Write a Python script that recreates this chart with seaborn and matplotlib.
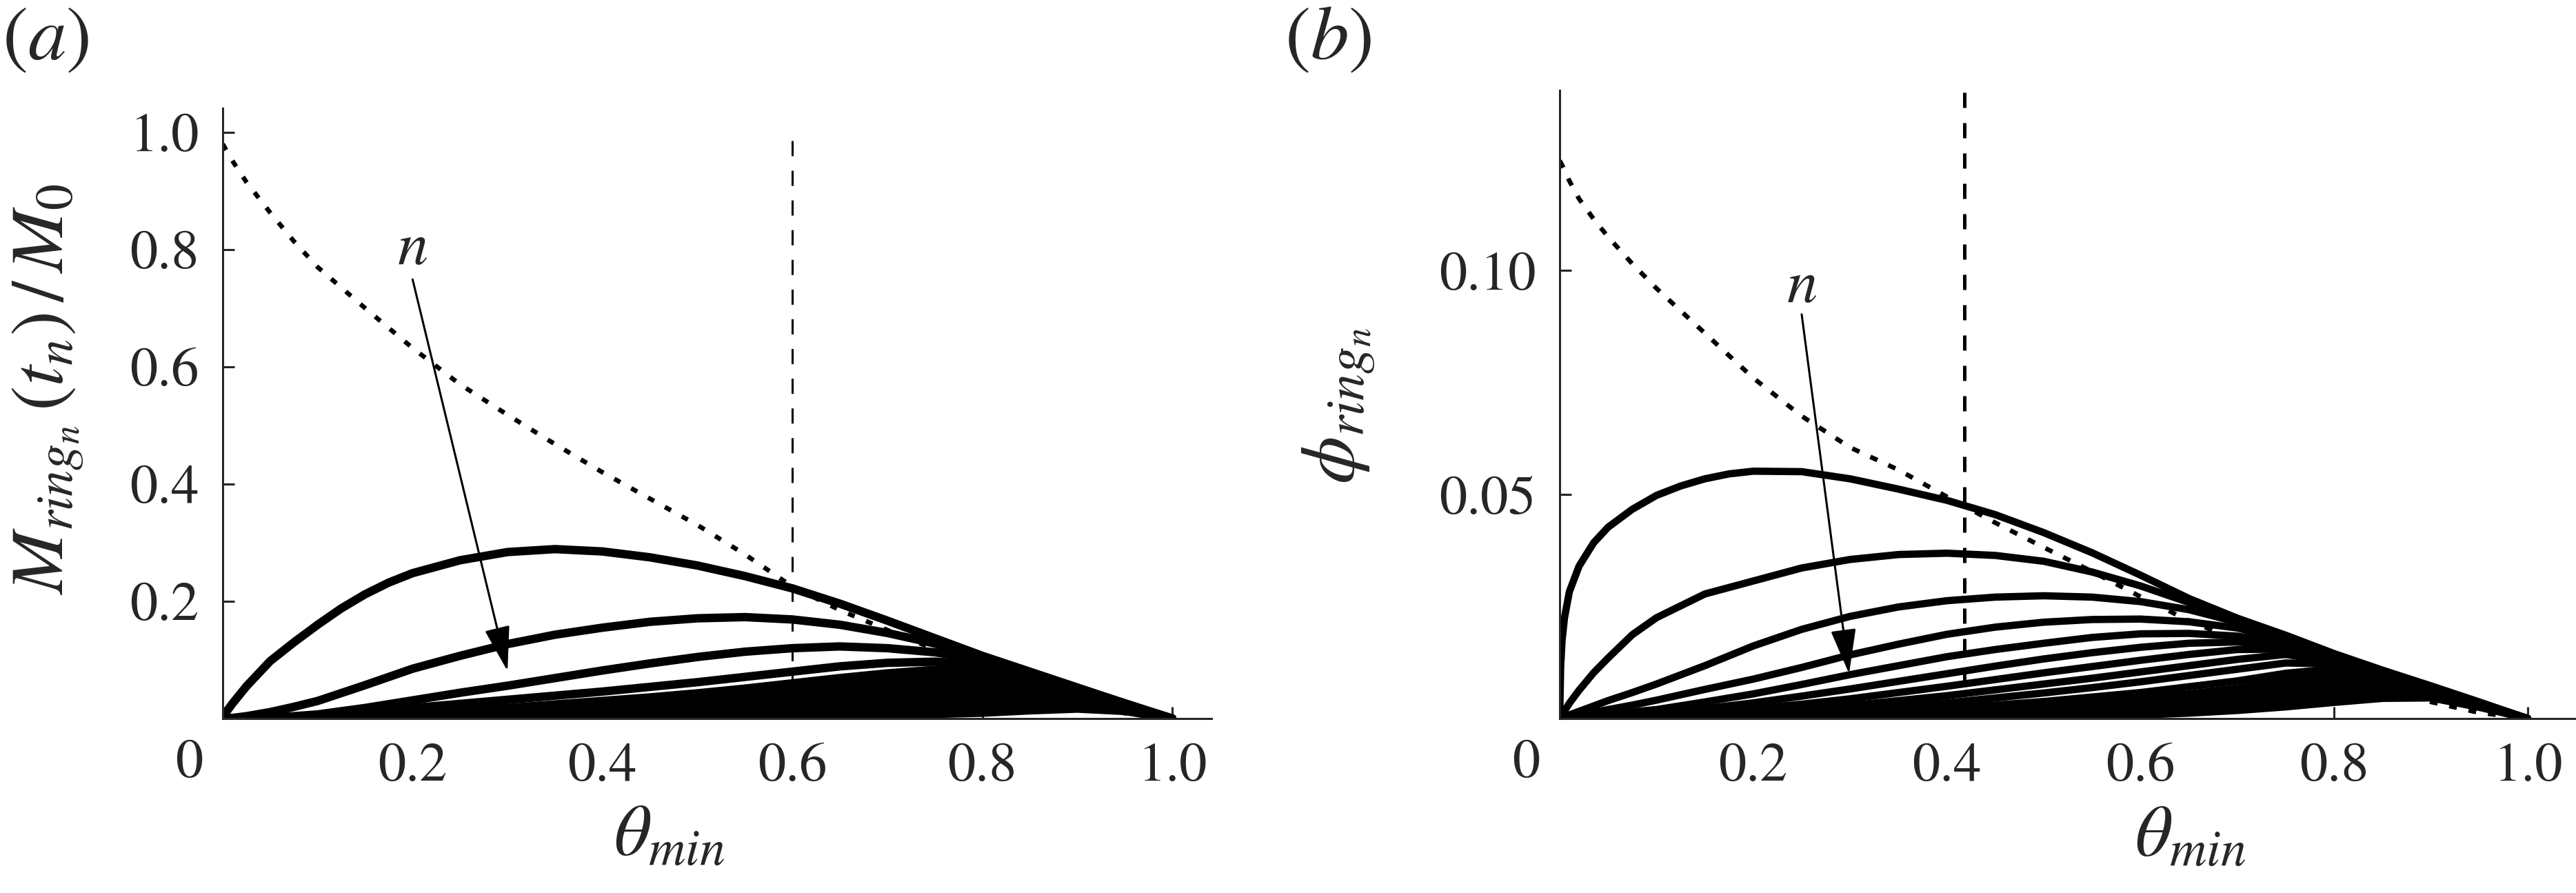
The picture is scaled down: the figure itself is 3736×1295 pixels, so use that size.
import seaborn as sns
import matplotlib.pyplot as plt

# panel (a): ring mass fraction against theta_min
xa = [0, 0.01, 0.025, 0.05, 0.075, 0.1, 0.15, 0.2, 0.25, 0.3, 0.35, 0.4, 0.45, 0.5,
      0.55, 0.6, 0.65, 0.7, 0.75, 0.8, 0.85, 0.9, 0.95, 1.0]
bound_a = [0.98, 0.952, 0.915, 0.863, 0.814, 0.77, 0.70, 0.632, 0.57, 0.518, 0.468, 0.42,
           0.375, 0.33, 0.28, 0.225, 0.185, 0.151, 0.118, 0.088, 0.058, 0.03, 0.009, 0.0]
# first ring rises fast, so it gets a finer grid of its own
xa1 = [0, 0.005, 0.01, 0.025, 0.05, 0.075, 0.1, 0.125, 0.15, 0.175, 0.2, 0.25, 0.3, 0.35,
       0.4, 0.45, 0.5, 0.55, 0.6, 0.65, 0.7, 0.75, 0.8, 0.85, 0.9, 0.95, 1.0]
m1 = [0, 0.014, 0.025, 0.055, 0.098, 0.13, 0.16, 0.188, 0.212, 0.232, 0.248, 0.27, 0.284,
      0.289, 0.285, 0.275, 0.261, 0.243, 0.222, 0.196, 0.167, 0.137, 0.107, 0.080, 0.053,
      0.026, 0]
m2 = [0, 0.001, 0.004, 0.011, 0.02, 0.03, 0.057, 0.085, 0.107, 0.127, 0.143, 0.155, 0.165,
      0.171, 0.173, 0.169, 0.16, 0.146, 0.128, 0.105, 0.079, 0.052, 0.026, 0]
m3 = [0, 0, 0.001, 0.002, 0.004, 0.007, 0.018, 0.031, 0.044, 0.056, 0.069, 0.082, 0.094,
      0.105, 0.114, 0.12, 0.123, 0.12, 0.113, 0.101, 0.077, 0.051, 0.025, 0]
m4 = [0, 0, 0, 0.001, 0.002, 0.004, 0.01, 0.018, 0.025, 0.032, 0.039, 0.046, 0.054, 0.062,
      0.071, 0.08, 0.089, 0.095, 0.097, 0.093, 0.073, 0.049, 0.024, 0]
m5 = [0, 0, 0, 0, 0.001, 0.002, 0.005, 0.01, 0.014, 0.018, 0.024, 0.03, 0.036, 0.043,
      0.051, 0.06, 0.069, 0.077, 0.083, 0.081, 0.066, 0.045, 0.023, 0]
m6 = [0, 0, 0, 0, 0, 0.001, 0.003, 0.005, 0.008, 0.011, 0.015, 0.02, 0.026, 0.032, 0.039,
      0.047, 0.056, 0.065, 0.073, 0.074, 0.063, 0.044, 0.022, 0]
m7 = [0, 0, 0, 0, 0, 0, 0.001, 0.003, 0.005, 0.007, 0.010, 0.014, 0.019, 0.024, 0.030,
      0.037, 0.045, 0.053, 0.062, 0.067, 0.060, 0.043, 0.022, 0]
m8 = [0, 0, 0, 0, 0, 0, 0, 0.001, 0.002, 0.004, 0.006, 0.009, 0.013, 0.017, 0.022, 0.028,
      0.035, 0.042, 0.05, 0.057, 0.055, 0.041, 0.021, 0]
m9 = [0, 0, 0, 0, 0, 0, 0, 0, 0.001, 0.002, 0.004, 0.006, 0.009, 0.012, 0.016, 0.021,
      0.027, 0.033, 0.04, 0.047, 0.049, 0.039, 0.02, 0]
m10 = [0, 0, 0, 0, 0, 0, 0, 0, 0, 0.001, 0.002, 0.004, 0.006, 0.008, 0.011, 0.015, 0.019,
       0.024, 0.03, 0.036, 0.042, 0.036, 0.019, 0]
m11 = [0, 0, 0, 0, 0, 0, 0, 0, 0, 0, 0.001, 0.002, 0.003, 0.005, 0.007, 0.01, 0.013,
       0.017, 0.021, 0.026, 0.032, 0.033, 0.018, 0]
m12 = [0, 0, 0, 0, 0, 0, 0, 0, 0, 0, 0, 0.001, 0.002, 0.003, 0.004, 0.006, 0.008, 0.011,
       0.014, 0.018, 0.022, 0.026, 0.016, 0]
m13 = [0, 0, 0, 0, 0, 0, 0, 0, 0, 0, 0, 0, 0.001, 0.001, 0.002, 0.003, 0.004, 0.006,
       0.008, 0.01, 0.014, 0.017, 0.013, 0]
mass_curves = [m2, m3, m4, m5, m6, m7, m8, m9, m10, m11, m12, m13]

# panel (b): ring volume fraction against theta_min
xb = [0, 0.0025, 0.005, 0.01, 0.02, 0.035, 0.05, 0.075, 0.1, 0.15, 0.2, 0.25, 0.3, 0.35,
      0.4, 0.45, 0.5, 0.55, 0.6, 0.65, 0.7, 0.75, 0.8, 0.85, 0.9, 0.95, 1.0]
bound_b = [0.1245, 0.1235, 0.1225, 0.12, 0.116, 0.1115, 0.1075, 0.1015, 0.096, 0.086,
           0.076, 0.0675, 0.0605, 0.0555, 0.0495, 0.0437, 0.0382, 0.0328, 0.0272, 0.0218,
           0.0175, 0.014, 0.0105, 0.007, 0.0037, 0.0013, 0]
xb1 = [0, 0.001, 0.0025, 0.005, 0.01, 0.02, 0.035, 0.05, 0.075, 0.1, 0.125, 0.15, 0.175,
       0.2, 0.25, 0.3, 0.35, 0.4, 0.45, 0.5, 0.55, 0.6, 0.65, 0.7, 0.75, 0.8, 0.85, 0.9,
       0.95, 1.0]
p1 = [0, 0.0115, 0.0175, 0.0225, 0.0283, 0.034, 0.0392, 0.0427, 0.0467, 0.0498, 0.0519,
      0.0535, 0.0546, 0.0552, 0.0551, 0.0535, 0.0512, 0.0487, 0.0455, 0.0415, 0.037,
      0.032, 0.0268, 0.0224, 0.0186, 0.0145, 0.0108, 0.0073, 0.0037, 0]
p2 = [0, 0.0008, 0.0017, 0.0034, 0.0063, 0.0102, 0.0135, 0.0187, 0.0225, 0.0278, 0.0307,
      0.0336, 0.0355, 0.0366, 0.0369, 0.0364, 0.0351, 0.0327, 0.0296, 0.0259, 0.022, 0.0182,
      0.0143, 0.0106, 0.0071, 0.0036, 0]
p3 = [0, 0.0002, 0.0004, 0.0008, 0.0016, 0.0028, 0.004, 0.0058, 0.0077, 0.0118, 0.0162,
      0.0199, 0.0228, 0.0249, 0.0263, 0.0271, 0.0274, 0.0271, 0.0261, 0.0243, 0.0215,
      0.0181, 0.0142, 0.0105, 0.007, 0.0035, 0]
p4 = [0, 0.0001, 0.0002, 0.0004, 0.0008, 0.0014, 0.002, 0.003, 0.0041, 0.0065, 0.0088,
      0.0114, 0.0142, 0.0166, 0.0188, 0.0204, 0.0215, 0.0221, 0.0222, 0.0216, 0.0202,
      0.0177, 0.0141, 0.0104, 0.0069, 0.0035, 0]
p5 = [0, 0, 0.0001, 0.0002, 0.0004, 0.0007, 0.001, 0.0015, 0.002, 0.0037, 0.0055, 0.0076,
      0.0098, 0.0118, 0.0138, 0.0154, 0.0168, 0.0181, 0.0189, 0.019, 0.0184, 0.0168,
      0.0138, 0.0103, 0.0068, 0.0034, 0]
p6 = [0, 0, 0, 0.0001, 0.0002, 0.0004, 0.0005, 0.0008, 0.0012, 0.0022, 0.0035, 0.005,
      0.0066, 0.0083, 0.01, 0.0117, 0.0133, 0.0147, 0.0159, 0.0168, 0.0171, 0.0162, 0.0135,
      0.0102, 0.0068, 0.0034, 0]
p7 = [0, 0, 0, 0, 0.0001, 0.0002, 0.0003, 0.0005, 0.0007, 0.0013, 0.0022, 0.0032, 0.0044,
      0.0058, 0.0072, 0.0087, 0.0102, 0.0116, 0.013, 0.0143, 0.0154, 0.0155, 0.0132,
      0.0101, 0.0067, 0.0034, 0]
p8 = [0, 0, 0, 0, 0, 0.0001, 0.0001, 0.0002, 0.0004, 0.0008, 0.0013, 0.002, 0.0029, 0.004,
      0.0051, 0.0064, 0.0077, 0.009, 0.0104, 0.0118, 0.0132, 0.0143, 0.0127, 0.0099,
      0.0066, 0.0033, 0]
p9 = [0, 0, 0, 0, 0, 0, 0, 0.0001, 0.0002, 0.0004, 0.0008, 0.0013, 0.0019, 0.0027, 0.0035,
      0.0046, 0.0057, 0.0069, 0.0082, 0.0096, 0.011, 0.0124, 0.0122, 0.0097, 0.0065,
      0.0033, 0]
p10 = [0, 0, 0, 0, 0, 0, 0, 0, 0.0001, 0.0002, 0.0004, 0.0007, 0.0011, 0.0016, 0.0022,
       0.003, 0.0038, 0.0048, 0.0058, 0.0071, 0.0084, 0.0101, 0.0111, 0.0094, 0.0064,
       0.0032, 0]
p11 = [0, 0, 0, 0, 0, 0, 0, 0, 0, 0.0001, 0.0002, 0.0004, 0.0007, 0.001, 0.0015, 0.002,
       0.0027, 0.0035, 0.0044, 0.0055, 0.0068, 0.0086, 0.0096, 0.0092, 0.0063, 0.0032, 0]
p12 = [0, 0, 0, 0, 0, 0, 0, 0, 0, 0, 0.0001, 0.0002, 0.0004, 0.0006, 0.0009, 0.0013,
       0.0018, 0.0024, 0.0031, 0.004, 0.0053, 0.0071, 0.0081, 0.0082, 0.0061, 0.0031, 0]
p13 = [0, 0, 0, 0, 0, 0, 0, 0, 0, 0, 0, 0.0001, 0.0002, 0.0003, 0.0005, 0.0008, 0.0011,
       0.0016, 0.0021, 0.0028, 0.0039, 0.0056, 0.0066, 0.007, 0.0059, 0.003, 0]
p14 = [0, 0, 0, 0, 0, 0, 0, 0, 0, 0, 0, 0, 0.0001, 0.0002, 0.0003, 0.0005, 0.0007, 0.001,
       0.0014, 0.0019, 0.0027, 0.0041, 0.0051, 0.0057, 0.0054, 0.0028, 0]
p15 = [0, 0, 0, 0, 0, 0, 0, 0, 0, 0, 0, 0, 0.0001, 0.0001, 0.0002, 0.0003, 0.0004, 0.0006,
       0.0008, 0.0012, 0.0018, 0.0026, 0.0036, 0.0045, 0.0046, 0.0025, 0]
phi_curves = [p2, p3, p4, p5, p6, p7, p8, p9, p10, p11, p12, p13, p14, p15]

xticks = [0.2, 0.4, 0.6, 0.8, 1.0]
xtick_labels = ["0.2", "0.4", "0.6", "0.8", "1.0"]
yticks_a = [0.2, 0.4, 0.6, 0.8, 1.0]
ytick_labels_a = ["0.2", "0.4", "0.6", "0.8", "1.0"]
yticks_b = [0.05, 0.10]
ytick_labels_b = ["0.05", "0.10"]
theta_cut_a = 0.6
theta_cut_b = 0.418

sns.set_style("ticks")
plt.rcParams["font.family"] = ["STIXGeneral", "Liberation Serif", "DejaVu Serif"]
plt.rcParams["mathtext.fontset"] = "stix"

fig = plt.figure(figsize=(18.685, 6.475), dpi=200)
ax_a = fig.add_axes([0.08643, 0.19537, 0.38373, 0.68340])
ax_b = fig.add_axes([0.60530, 0.19537, 0.39470, 0.70347])


def style_axes(ax, yticks, ylabels):
    sns.despine(ax=ax)
    ax.spines["left"].set_linewidth(1.1)
    ax.spines["bottom"].set_linewidth(1.1)
    ax.set_xticks(xticks)
    ax.set_xticklabels(xtick_labels)
    ax.set_yticks(yticks)
    ax.set_yticklabels(ylabels)
    ax.tick_params(direction="in", length=6, width=1.1, labelsize=29, pad=12.5)
    ax.set_xlabel("")
    ax.set_ylabel("")
    # the origin label sits off to the lower left, like the source plot
    ax.annotate("0", xy=(0, 0), xytext=(-17.6, -23.7), textcoords="offset points",
                ha="center", va="center", fontsize=29)


def draw(ax, x, y, lw, ls="-"):
    sns.lineplot(x=x, y=y, ax=ax, color="black", linewidth=lw, linestyle=ls,
                 estimator=None, sort=False)


# ---- (a)
draw(ax_a, xa, bound_a, 2.4, (0, (1.5, 2.7)))
draw(ax_a, xa1, m1, 4.4)
for m in mass_curves:
    draw(ax_a, xa, m, 4.4)
draw(ax_a, [theta_cut_a, theta_cut_a], [0.986, 0], 1.1, (0, (7.2, 6.9)))
ax_a.set_xlim(0, 1.0414)
ax_a.set_ylim(0, 1.041)
style_axes(ax_a, yticks_a, ytick_labels_a)
ax_a.annotate("", xy=(0.30, 0.081), xytext=(0.2, 0.749),
              arrowprops=dict(arrowstyle="-|>,head_length=0.6,head_width=0.17",
                              color="black", lw=1.1, shrinkA=0, shrinkB=0,
                              mutation_scale=34))
ax_a.text(0.2, 0.80, r"$n$", fontsize=32, ha="center", va="center")
ax_a.text(0.452, -0.197, r"$\theta_{min}$", fontsize=38, ha="center", va="center",
          transform=ax_a.transAxes)
ax_a.text(-0.176, 0.54, r"$M_{ring_n}\,(t_n)\,/\,M_0$", fontsize=39, rotation=90,
          ha="center", va="center", transform=ax_a.transAxes)

# ---- (b)
draw(ax_b, xb, bound_b, 2.4, (0, (1.7, 2.6)))
draw(ax_b, xb1, p1, 3.8)
for p in phi_curves:
    draw(ax_b, xb, p, 3.8)
draw(ax_b, [theta_cut_b, theta_cut_b], [0.1398, 0], 1.8, (0, (4.4, 4.4)))
ax_b.set_xlim(0, 1.0506)
ax_b.set_ylim(0, 0.1402)
style_axes(ax_b, yticks_b, ytick_labels_b)
ax_b.annotate("", xy=(0.299, 0.0100), xytext=(0.25, 0.0902),
              arrowprops=dict(arrowstyle="-|>,head_length=0.6,head_width=0.17",
                              color="black", lw=1.1, shrinkA=0, shrinkB=0,
                              mutation_scale=34))
ax_b.text(0.25, 0.0962, r"$n$", fontsize=32, ha="center", va="center")
ax_b.text(0.62, -0.192, r"$\theta_{min}$", fontsize=38, ha="center", va="center",
          transform=ax_b.transAxes)
ax_b.text(-0.217, 0.498, r"$\phi_{ring_n}$", fontsize=40, rotation=90,
          ha="center", va="center", transform=ax_b.transAxes)

fig.text(0.0008, 0.992, r"$(a)$", fontsize=40, ha="left", va="top")
fig.text(0.4985, 0.992, r"$(b)$", fontsize=40, ha="left", va="top")

fig.savefig("out.png", dpi=200)
